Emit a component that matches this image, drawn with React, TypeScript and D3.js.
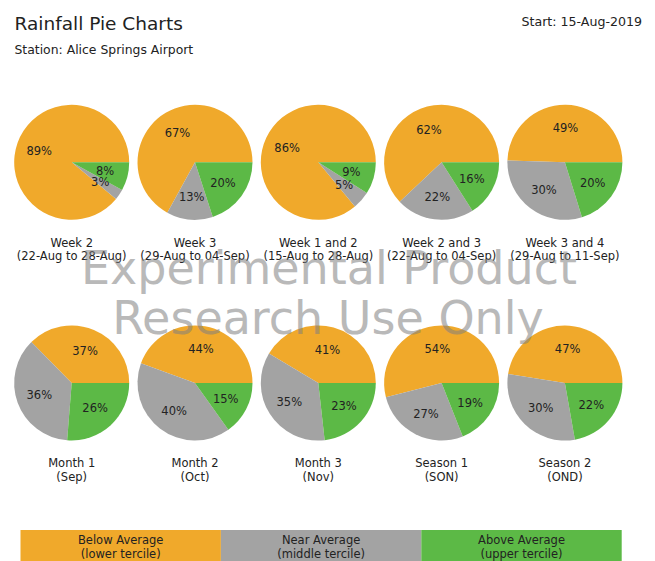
import React from "react";
import * as d3 from "d3";

const titleText = "Rainfall Pie Charts";
const stationText = "Station: Alice Springs Airport";
const startText = "Start: 15-Aug-2019";
const watermark = ["Experimental Product", "Research Use Only"];

const row1Names = ["Week 2", "Week 3", "Week 1 and 2", "Week 2 and 3", "Week 3 and 4"];
const row1Periods = ["(22-Aug to 28-Aug)", "(29-Aug to 04-Sep)", "(15-Aug to 28-Aug)", "(22-Aug to 04-Sep)", "(29-Aug to 11-Sep)"];
const row1Below = [89, 67, 86, 62, 49];
const row1Near = [3, 13, 5, 22, 30];
const row1Above = [8, 20, 9, 16, 20];

const row2Names = ["Month 1", "Month 2", "Month 3", "Season 1", "Season 2"];
const row2Periods = ["(Sep)", "(Oct)", "(Nov)", "(SON)", "(OND)"];
const row2Below = [37, 44, 41, 54, 47];
const row2Near = [36, 40, 35, 27, 30];
const row2Above = [26, 15, 23, 19, 22];

const legendLabels = ["Below Average", "Near Average", "Above Average"];
const legendSub = ["(lower tercile)", "(middle tercile)", "(upper tercile)"];
const colors = ["#f0a92b", "#a3a3a3", "#5cb946"];

const W = 655;
const H = 561;
const FONT = "'DejaVu Sans', sans-serif";
const R = 57.5;

const colX = d3.scaleLinear().domain([0, 4]).range([71.7, 564.9]);
const rowY = [162.3, 383];

const pieGen = d3
  .pie<number>()
  .sort(null)
  .value((d) => d)
  .startAngle(Math.PI / 2)
  .endAngle(Math.PI / 2 - 2 * Math.PI);
const arcGen = d3.arc<d3.PieArcDatum<number>>().innerRadius(0).outerRadius(R);
const labelArc = d3.arc<d3.PieArcDatum<number>>().innerRadius(R * 0.6).outerRadius(R * 0.6);

function Pie({ cx, cy, values, name, period }: { cx: number; cy: number; values: number[]; name: string; period: string }) {
  const arcs = pieGen(values);
  return (
    <g transform={`translate(${cx},${cy})`}>
      {arcs.map((a, i) => (
        <path key={i} d={arcGen(a) || ""} fill={colors[i]} />
      ))}
      {arcs.map((a, i) => {
        const [x, y] = labelArc.centroid(a);
        return (
          <text key={"t" + i} x={x} y={y} dy="0.36em" textAnchor="middle" fontSize={11.5} fill="#222">
            {`${values[i]}%`}
          </text>
        );
      })}
      <text x={0} y={84.3} textAnchor="middle" fontSize={11.5} fill="#222">{name}</text>
      <text x={0} y={97.8} textAnchor="middle" fontSize={11.5} fill="#222">{period}</text>
    </g>
  );
}

const legendX = d3.scaleLinear().domain([0, 3]).range([20.5, 621.7]);

export default function App() {
  return (
    <svg
      width={W}
      height={H}
      style={{ position: "fixed", left: 0, top: 0, display: "block", background: "#fff" }}
      fontFamily={FONT}
    >
      <rect x={0} y={0} width={W} height={H} fill="#fff" />
      <text x={14.5} y={30} fontSize={18.5} fill="#222">{titleText}</text>
      <text x={14.5} y={54} fontSize={12.4} fill="#222">{stationText}</text>
      <text x={642} y={26} fontSize={12.6} textAnchor="end" fill="#222">{startText}</text>

      {row1Names.map((n, i) => (
        <Pie key={"r1" + i} cx={colX(i)} cy={rowY[0]} values={[row1Below[i], row1Near[i], row1Above[i]]} name={n} period={row1Periods[i]} />
      ))}
      {row2Names.map((n, i) => (
        <Pie key={"r2" + i} cx={colX(i)} cy={rowY[1]} values={[row2Below[i], row2Near[i], row2Above[i]]} name={n} period={row2Periods[i]} />
      ))}

      {legendLabels.map((l, i) => {
        const x0 = legendX(i);
        const x1 = legendX(i + 1);
        return (
          <g key={"lg" + i}>
            <rect x={x0} y={530} width={x1 - x0} height={40} fill={colors[i]} />
            <text x={(x0 + x1) / 2} y={543.5} textAnchor="middle" fontSize={11.5} fill="#222">{l}</text>
            <text x={(x0 + x1) / 2} y={557.5} textAnchor="middle" fontSize={11.5} fill="#222">{legendSub[i]}</text>
          </g>
        );
      })}

      <g fill="#808080" opacity={0.55} fontSize={46} textAnchor="middle">
        <text x={329} y={284}>{watermark[0]}</text>
        <text x={328} y={334}>{watermark[1]}</text>
      </g>
    </svg>
  );
}
